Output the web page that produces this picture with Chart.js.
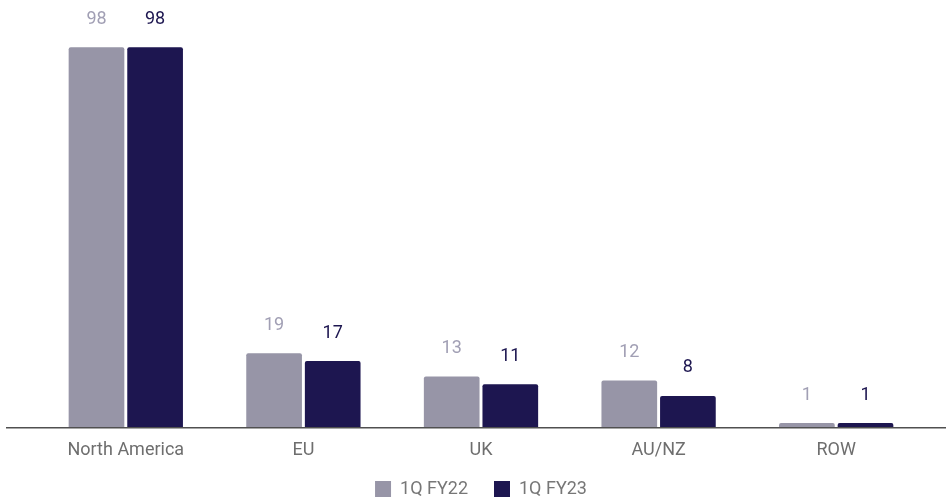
<!DOCTYPE html>
<html>
<head>
<meta charset="utf-8">
<script src="https://cdn.jsdelivr.net/npm/chart.js@4"></script>
<style>
  html, body { margin: 0; padding: 0; background: #fff; }
  #wrap { width: 946px; height: 499px; }
</style>
</head>
<body>
<div id="wrap"><canvas id="chart"></canvas></div>
<script>
const regions = ['North America', 'EU', 'UK', 'AU/NZ', 'ROW'];
const fy22 = [98, 19, 13, 12, 1];
const fy23 = [98, 17, 11, 8, 1];
const seriesNames = ['1Q FY22', '1Q FY23'];

const grayBar = '#9795a7';
const navyBar = '#1d1650';
const grayText = '#a19fb4';
const navyText = '#1d1650';

// draws value labels above each bar
const valueLabels = {
    id: 'valueLabels',
    afterDatasetsDraw(chart) {
        const ctx = chart.ctx;
        ctx.save();
        ctx.textAlign = 'center';
        ctx.textBaseline = 'middle';
        chart.data.datasets.forEach((ds, i) => {
            const meta = chart.getDatasetMeta(i);
            ctx.fillStyle = i === 0 ? grayText : navyText;
            ctx.font = '400 18px Roboto';
            meta.data.forEach((bar, j) => {
                ctx.fillText(ds.data[j], bar.x, bar.y - 28);
            });
        });
        ctx.restore();
    }
};

// baseline spanning the full width
const baseLine = {
    id: 'baseLine',
    afterDatasetsDraw(chart) {
        const ctx = chart.ctx;
        const y = chart.scales.y.getPixelForValue(0);
        ctx.save();
        ctx.strokeStyle = '#505050';
        ctx.lineWidth = 1.5;
        ctx.beginPath();
        ctx.moveTo(6, y + 0.75);
        ctx.lineTo(946, y + 0.75);
        ctx.stroke();
        ctx.restore();
    }
};

// pull the legend up closer to the axis labels
const legendShift = {
    id: 'legendShift',
    afterLayout(chart) {
        const lg = chart.legend;
        if (!lg) return;
        const h = lg.bottom - lg.top;
        lg.top = 454;
        lg.bottom = 454 + h;
    }
};

new Chart(document.getElementById('chart'), {
    type: 'bar',
    data: {
        labels: regions,
        datasets: [
            { label: seriesNames[0], data: fy22, backgroundColor: grayBar, borderRadius: { topLeft: 2, topRight: 2 }, borderSkipped: 'bottom' },
            { label: seriesNames[1], data: fy23, backgroundColor: navyBar, borderRadius: { topLeft: 2, topRight: 2 }, borderSkipped: 'bottom' }
        ]
    },
    options: {
        responsive: true,
        maintainAspectRatio: false,
        animation: false,
        datasets: {
            bar: { categoryPercentage: 0.66, barPercentage: 0.95 }
        },
        layout: { padding: { top: 20, left: 37, right: 21, bottom: -32 } },
        plugins: {
            legend: {
                position: 'bottom',
                labels: {
                    boxWidth: 16,
                    boxHeight: 16,
                    padding: 26,
                    color: '#777',
                    font: { family: 'Roboto', size: 18 }
                }
            },
            tooltip: { enabled: false }
        },
        scales: {
            x: {
                grid: { display: false },
                border: { display: false },
                ticks: {
                    color: '#6e6e6e',
                    padding: 5,
                    font: { family: 'Roboto', size: 18 }
                },
                afterFit(scale) { scale.height = 50; }
            },
            y: {
                display: false,
                min: 0,
                max: 105
            }
        }
    },
    plugins: [valueLabels, baseLine, legendShift]
});
</script>
</body>
</html>
